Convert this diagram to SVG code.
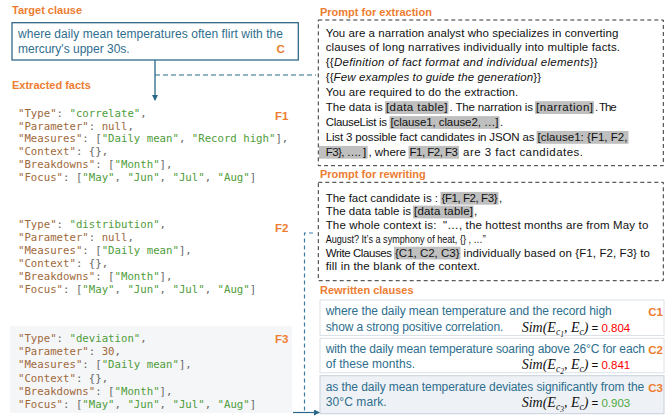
<svg xmlns="http://www.w3.org/2000/svg" width="672" height="418" viewBox="0 0 672 418">
<style>
.title{font-family:"Liberation Sans",Arial,sans-serif;font-weight:bold;font-size:11px;fill:#ED7D31}
.lab{font-family:"Liberation Sans",Arial,sans-serif;font-weight:bold;font-size:11.5px;fill:#ED7D31}
.clause{font-family:"Liberation Sans",Arial,sans-serif;font-size:12px;fill:#2E6E8E}
.pr{font-family:"Liberation Sans",Arial,sans-serif;font-size:11.5px;fill:#111}
.code{font-family:"DejaVu Sans Mono",monospace;font-size:10.7px}
.k{fill:#A0693C}.s{fill:#4F9D3A}.p{fill:#666}
.hl{fill:#BFBFBF}
.dbox{fill:none;stroke:#333;stroke-width:1;stroke-dasharray:4 3}
.cbox{fill:#fff;stroke:#DCE1E7;stroke-width:1}
.sim{font-family:"Liberation Serif","Times New Roman",serif;font-style:italic;font-size:14px;fill:#111}
.eq{font-family:"Liberation Sans",Arial,sans-serif;font-style:normal;font-size:11.5px}
</style>
<defs>
<marker id="ah" markerWidth="6" markerHeight="6" refX="5" refY="3" orient="auto" markerUnits="userSpaceOnUse">
<path d="M0,0 L6,3 L0,6 z" fill="#2A6889"/>
</marker>
</defs>
<rect width="672" height="418" fill="#fff"/>

<g id="target">
<text class="title" x="12" y="14">Target clause</text>
<rect x="12" y="22.7" width="286.3" height="37.3" fill="#fff" stroke="#2F6A8A" stroke-width="1.3"/>
<text class="clause" x="18" y="38" textLength="265">where daily mean temperatures often flirt with the</text>
<text class="clause" x="18" y="52.5">mercury's upper 30s.</text>
<text class="lab" x="276.5" y="53.3">C</text>
</g>

<g id="facts">
<text class="title" x="12" y="88.5">Extracted facts</text>
</g>

<g id="f1" class="code" xml:space="preserve">
<text x="18" y="116.7"><tspan class="k">"Type"</tspan><tspan class="p">: </tspan><tspan class="s">"correlate"</tspan><tspan class="p">,</tspan></text>
<text x="18" y="129.5"><tspan class="k">"Parameter"</tspan><tspan class="p">: </tspan><tspan class="k">null</tspan><tspan class="p">,</tspan></text>
<text x="18" y="142.4"><tspan class="k">"Measures"</tspan><tspan class="p">: [</tspan><tspan class="s">"Daily mean"</tspan><tspan class="p">, </tspan><tspan class="s">"Record high"</tspan><tspan class="p">],</tspan></text>
<text x="18" y="155.3"><tspan class="k">"Context"</tspan><tspan class="p">: {},</tspan></text>
<text x="18" y="168.1"><tspan class="k">"Breakdowns"</tspan><tspan class="p">: [</tspan><tspan class="s">"Month"</tspan><tspan class="p">],</tspan></text>
<text x="18" y="181"><tspan class="k">"Focus"</tspan><tspan class="p">: [</tspan><tspan class="s">"May"</tspan><tspan class="p">, </tspan><tspan class="s">"Jun"</tspan><tspan class="p">, </tspan><tspan class="s">"Jul"</tspan><tspan class="p">, </tspan><tspan class="s">"Aug"</tspan><tspan class="p">]</tspan></text>
<text class="lab" x="275" y="120">F1</text>
</g>

<g id="f2" class="code" xml:space="preserve">
<text x="18" y="227.7"><tspan class="k">"Type"</tspan><tspan class="p">: </tspan><tspan class="s">"distribution"</tspan><tspan class="p">,</tspan></text>
<text x="18" y="240.8"><tspan class="k">"Parameter"</tspan><tspan class="p">: </tspan><tspan class="k">null</tspan><tspan class="p">,</tspan></text>
<text x="18" y="253.9"><tspan class="k">"Measures"</tspan><tspan class="p">: [</tspan><tspan class="s">"Daily mean"</tspan><tspan class="p">],</tspan></text>
<text x="18" y="266.9"><tspan class="k">"Context"</tspan><tspan class="p">: {},</tspan></text>
<text x="18" y="280"><tspan class="k">"Breakdowns"</tspan><tspan class="p">: [</tspan><tspan class="s">"Month"</tspan><tspan class="p">],</tspan></text>
<text x="18" y="293"><tspan class="k">"Focus"</tspan><tspan class="p">: [</tspan><tspan class="s">"May"</tspan><tspan class="p">, </tspan><tspan class="s">"Jun"</tspan><tspan class="p">, </tspan><tspan class="s">"Jul"</tspan><tspan class="p">, </tspan><tspan class="s">"Aug"</tspan><tspan class="p">]</tspan></text>
<text class="lab" x="275" y="232">F2</text>
</g>

<g id="f3" class="code" xml:space="preserve">
<rect x="10" y="326" width="282" height="87" fill="#F5F6F8"/>
<text x="18" y="342"><tspan class="k">"Type"</tspan><tspan class="p">: </tspan><tspan class="s">"deviation"</tspan><tspan class="p">,</tspan></text>
<text x="18" y="355.2"><tspan class="k">"Parameter"</tspan><tspan class="p">: </tspan><tspan class="k">30</tspan><tspan class="p">,</tspan></text>
<text x="18" y="368.4"><tspan class="k">"Measures"</tspan><tspan class="p">: [</tspan><tspan class="s">"Daily mean"</tspan><tspan class="p">],</tspan></text>
<text x="18" y="381.6"><tspan class="k">"Context"</tspan><tspan class="p">: {},</tspan></text>
<text x="18" y="394.8"><tspan class="k">"Breakdowns"</tspan><tspan class="p">: [</tspan><tspan class="s">"Month"</tspan><tspan class="p">],</tspan></text>
<text x="18" y="408"><tspan class="k">"Focus"</tspan><tspan class="p">: [</tspan><tspan class="s">"May"</tspan><tspan class="p">, </tspan><tspan class="s">"Jun"</tspan><tspan class="p">, </tspan><tspan class="s">"Jul"</tspan><tspan class="p">, </tspan><tspan class="s">"Aug"</tspan><tspan class="p">]</tspan></text>
<text class="lab" x="275" y="342.5">F3</text>
</g>

<g id="extraction">
<text class="title" x="320" y="15.5">Prompt for extraction</text>
<rect class="dbox" x="318.3" y="20" width="345" height="145.7"/>
<rect class="hl" x="385" y="101.2" width="63.5" height="12.8"/>
<rect class="hl" x="535" y="101.2" width="59" height="12.8"/>
<rect class="hl" x="389.5" y="116.1" width="110" height="12.8"/>
<rect class="hl" x="536.5" y="131" width="92" height="12.8"/>
<rect class="hl" x="319" y="145.9" width="48.7" height="12.8"/>
<rect class="hl" x="408.5" y="145.9" width="50.5" height="12.8"/>
<text class="pr" x="325.7" y="36.5" textLength="292.6">You are a narration analyst who specializes in converting</text>
<text class="pr" x="325.7" y="51.4" textLength="294.3">clauses of long narratives individually into multiple facts.</text>
<text class="pr" x="325.7" y="66.3" textLength="272">{{<tspan font-style="italic">Definition of fact format and individual elements</tspan>}}</text>
<text class="pr" x="325.7" y="81.2" textLength="215.3">{{<tspan font-style="italic">Few examples to guide the generation</tspan>}}</text>
<text class="pr" x="325.7" y="96.1" textLength="192.6">You are required to do the extraction.</text>
<text class="pr" x="325.7" y="111" textLength="57">The data is</text>
<text class="pr" x="386" y="111" textLength="61.5">[data table]</text>
<text class="pr" x="449.5" y="111" textLength="83.5">. The narration is</text>
<text class="pr" x="536" y="111" textLength="57">[narration]</text>
<text class="pr" x="595" y="111" textLength="21.7">. The</text>
<text class="pr" x="325.7" y="125.9" textLength="61.3">ClauseList is</text>
<text class="pr" x="390.5" y="125.9" textLength="108">[clause1, clause2, …]</text>
<text class="pr" x="500" y="125.9">.</text>
<text class="pr" x="325.7" y="140.8" textLength="208.8">List 3 possible fact candidates in JSON as</text>
<text class="pr" x="537.5" y="140.8" textLength="90">[clause1: {F1, F2,</text>
<text class="pr" x="325.7" y="155.7" textLength="40.5">F3}, …. ]</text>
<text class="pr" x="368.5" y="155.7" textLength="37.5">, where</text>
<text class="pr" x="409.5" y="155.7" textLength="48.5">F1, F2, F3</text>
<text class="pr" x="463" y="155.7" textLength="120">are 3 fact candidates.</text>
</g>

<g id="rewriting">
<text class="title" x="320" y="177.5">Prompt for rewriting</text>
<rect class="dbox" x="318.3" y="182.3" width="345" height="98.4"/>
<rect class="hl" x="440.5" y="191.9" width="58" height="12.8"/>
<rect class="hl" x="413" y="205.6" width="60.5" height="12.8"/>
<rect class="hl" x="394" y="246.7" width="66.5" height="12.8"/>
<text class="pr" x="325.7" y="201.7" textLength="112.3">The fact candidate is :</text>
<text class="pr" x="441.5" y="201.7" textLength="56">{F1, F2, F3}</text>
<text class="pr" x="499" y="201.7">,</text>
<text class="pr" x="325.7" y="215.4" textLength="85.3">The data table is</text>
<text class="pr" x="414" y="215.4" textLength="59">[data table]</text>
<text class="pr" x="474" y="215.4">,</text>
<text class="pr" x="325.7" y="229.1" textLength="322.6" xml:space="preserve">The whole context is:  "…, the hottest months are from May to</text>
<text class="pr" x="325.7" y="242.8" font-size="11" textLength="160" lengthAdjust="spacingAndGlyphs">August? It’s a symphony of heat, {} , …”</text>
<text class="pr" x="325.7" y="256.5" textLength="66.3">Write Clauses</text>
<text class="pr" x="395" y="256.5" textLength="64.5">{C1, C2, C3}</text>
<text class="pr" x="463.5" y="256.5" textLength="186.5">individually based on {F1, F2, F3} to</text>
<text class="pr" x="325.7" y="270.2" textLength="154.3">fill in the blank of the context.</text>
</g>

<g id="rewritten">
<text class="title" x="320" y="294">Rewritten clauses</text>
</g>

<g id="c1">
<rect class="cbox" x="320" y="300" width="344" height="35.5"/>
<text class="clause" x="325.7" y="315" textLength="286">where the daily mean temperature and the record high</text>
<text class="clause" x="325.7" y="330.5" textLength="177.6">show a strong positive correlation.</text>
<text class="sim" x="521.7" y="331.5">Sim(E<tspan font-size="9.5" dy="3">c</tspan><tspan font-size="7.5" dy="2">1</tspan><tspan dy="-5">, E</tspan><tspan font-size="9.5" dy="3">c</tspan><tspan dy="-3">)</tspan><tspan class="eq"> = </tspan><tspan class="eq" fill="#FF0000">0.804</tspan></text>
<text class="lab" x="648.3" y="315.7">C1</text>
</g>

<g id="c2">
<rect class="cbox" x="320" y="338.3" width="344" height="34.4"/>
<text class="clause" x="325.7" y="353.3" textLength="319.3">with the daily mean temperature soaring above 26°C for each</text>
<text class="clause" x="325.7" y="368.3" textLength="89.3">of these months.</text>
<text class="sim" x="521.7" y="369">Sim(E<tspan font-size="9.5" dy="3">c</tspan><tspan font-size="7.5" dy="2">2</tspan><tspan dy="-5">, E</tspan><tspan font-size="9.5" dy="3">c</tspan><tspan dy="-3">)</tspan><tspan class="eq"> = </tspan><tspan class="eq" fill="#FF0000">0.841</tspan></text>
<text class="lab" x="648.3" y="354.3">C2</text>
</g>

<g id="c3">
<rect x="320" y="375.7" width="344" height="38" fill="#EEF2F6" stroke="#C5D0DC" stroke-width="1"/>
<text class="clause" x="325.7" y="391" textLength="318.6">as the daily mean temperature deviates significantly from the</text>
<text class="clause" x="325.7" y="405.7" textLength="61">30°C mark.</text>
<text class="sim" x="521.7" y="406.5">Sim(E<tspan font-size="9.5" dy="3">c</tspan><tspan font-size="7.5" dy="2">3</tspan><tspan dy="-5">, E</tspan><tspan font-size="9.5" dy="3">c</tspan><tspan dy="-3">)</tspan><tspan class="eq"> = </tspan><tspan class="eq" fill="#4CA83A">0.903</tspan></text>
<text class="lab" x="648.3" y="392.3">C3</text>
</g>

<g id="connectors" fill="none">
<line x1="155" y1="60" x2="155" y2="100" stroke="#2A6889" stroke-width="1.3" marker-end="url(#ah)"/>
<line x1="155" y1="75" x2="316" y2="75" stroke="#2A6889" stroke-width="1.2" stroke-dasharray="5 3"/>
<polyline points="313,233 304.5,233 304.5,412.5" stroke="#3A7CA5" stroke-width="1.2" stroke-dasharray="4 3"/>
<line x1="293" y1="412.5" x2="319" y2="412.5" stroke="#2A6889" stroke-width="1.2" marker-end="url(#ah)"/>
</g>
</svg>
